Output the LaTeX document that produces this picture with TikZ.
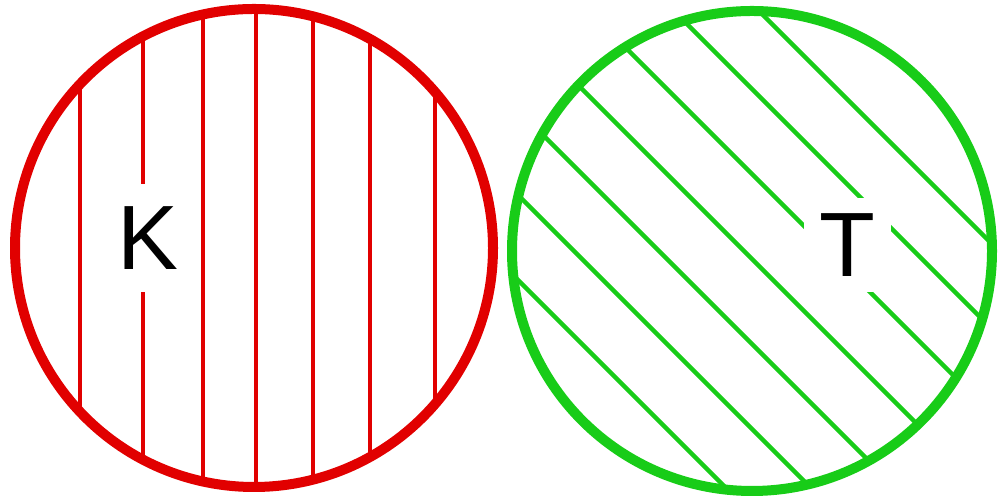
\documentclass[tikz,border=0pt]{standalone}
\usepackage{fontspec}
\setmainfont{Liberation Sans}
\definecolor{setred}{RGB}{225,0,0}
\definecolor{setgreen}{RGB}{24,204,24}

\begin{document}
\begin{tikzpicture}[letterbox/.style={fill=white, inner sep=0.32cm, font=\fontsize{52}{52}\selectfont}]
        \useasboundingbox (0,0) rectangle (20,10);
        % red set, vertical hatching
        \begin{scope}
          \clip (5.08,5.04) circle (4.78);
          \foreach \x in {1.6,2.86,4.06,5.12,6.26,7.4,8.7}
            \draw[setred, line width=0.08cm] (\x,0) -- (\x,10);
        \end{scope}
        \draw[setred, line width=0.2cm] (5.08,5.04) circle (4.78);
        \node[letterbox, inner ysep=0.45cm] (kset) at (2.96,5.24) {K};
        % green set, diagonal hatching
        \begin{scope}
          \clip (15.04,4.98) circle (4.8);
          \foreach \k in {14.76,16.46,18.16,19.86,21.56,23.26,24.96}
            \draw[setgreen, line width=0.09cm] (\k,0) -- (\k-10,10);
        \end{scope}
        \draw[setgreen, line width=0.2cm] (15.04,4.98) circle (4.8);
        \node[letterbox] (tset) at (16.95,5.1) {T};
     \end{tikzpicture}
\end{document}
